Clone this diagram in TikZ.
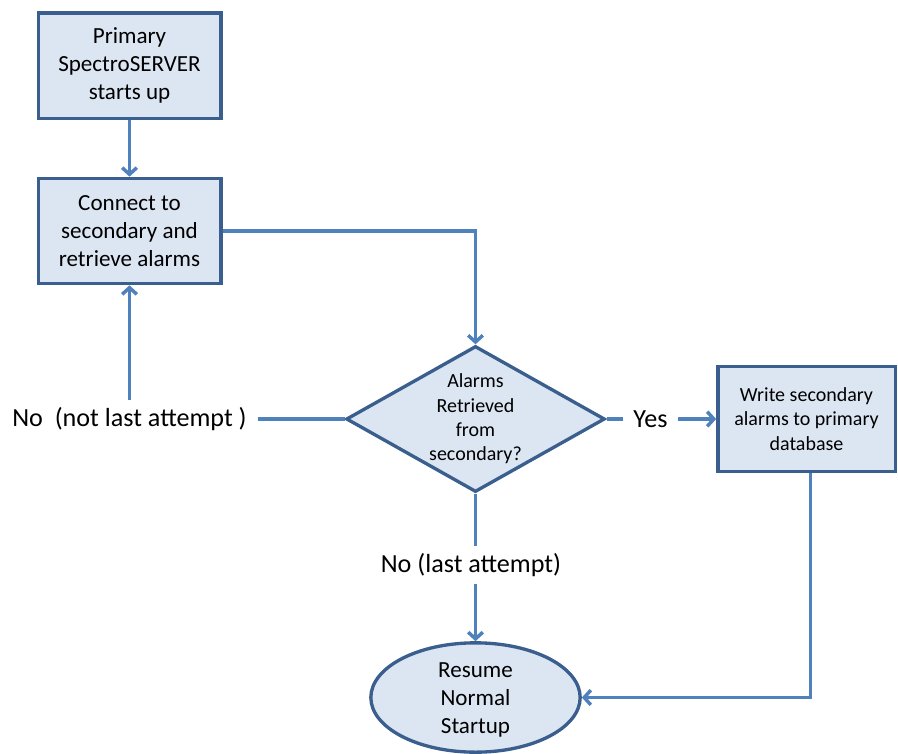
\documentclass[tikz,border=0pt]{standalone}
\usepackage{fontspec}
\setmainfont{Carlito}
\usetikzlibrary{shapes.geometric,arrows.meta}
\definecolor{fillb}{HTML}{DCE6F2}
\definecolor{edgeb}{HTML}{3A5F8E}
\definecolor{lineb}{HTML}{4F81BD}
\begin{document}
\begin{tikzpicture}[x=0.75pt,y=-0.75pt,
  shp/.style={draw=edgeb,fill=fillb,line width=2.5pt},
  procbox/.style={shp,rectangle,minimum height=79pt,align=center,inner sep=0pt},
  bigtxt/.style={font=\fontsize{17.3}{21}\selectfont},
  smalltxt/.style={font=\fontsize{15}{18.2}\selectfont},
  lbl/.style={font=\fontsize{19.6}{23}\selectfont,inner xsep=8pt,inner ysep=5pt},
  ln/.style={draw=lineb,line width=2.6pt},
  conn/.style={ln,-{Straight Barb[length=5pt,width=11pt]}}]
\useasboundingbox (0,0) rectangle (898,753);

\node[procbox,bigtxt,minimum width=137pt] (b1) at (129.5,65.5) {Primary\\SpectroSERVER\\starts up};
\node[procbox,bigtxt,minimum width=137pt] (b2) at (129.5,231) {Connect to\\secondary and\\retrieve alarms};
\node[procbox,smalltxt,minimum width=133pt] (b3) at (806.5,419) {Write secondary\\alarms to primary\\database};
\node[shp,diamond,minimum width=194pt,minimum height=109.5pt,inner sep=0pt] (dia) at (475.5,419) {};
\node[smalltxt,align=center,inner sep=0pt] (diat) at (dia.center) {Alarms\\Retrieved\\from\\secondary?};
\node[shp,ellipse,minimum width=157pt,minimum height=82pt,inner sep=0pt] (ell) at (475.5,697.5) {};
\node[bigtxt,align=center,inner sep=0pt] (ellt) at ([yshift=-1.5pt]ell.center) {Resume\\Normal\\Startup};

\node[lbl] (nonot) at (129.5,419) {No\ \ (not last attempt )};
\node[lbl] (yes) at (650.5,419) {Yes};
\node[lbl] (nolast) at (471,565) {No (last attempt)};

\draw[conn] (b1) -- (b2);
\draw[conn] (b2.east) -| (dia.north);
\draw[ln] (dia.west) -- (nonot.east);
\draw[conn] (nonot.north) -- (b2.south);
\draw[ln] (dia.east) -- (yes.west);
\draw[conn] (yes.east) -- (b3.west);
\draw[ln] (dia.south) -- (dia.south |- nolast.north);
\draw[conn] (dia.south |- nolast.south) -- (ell.north);
\draw[conn] ([xshift=3pt]b3.south) |- (ell.east);
\end{tikzpicture}
\end{document}
